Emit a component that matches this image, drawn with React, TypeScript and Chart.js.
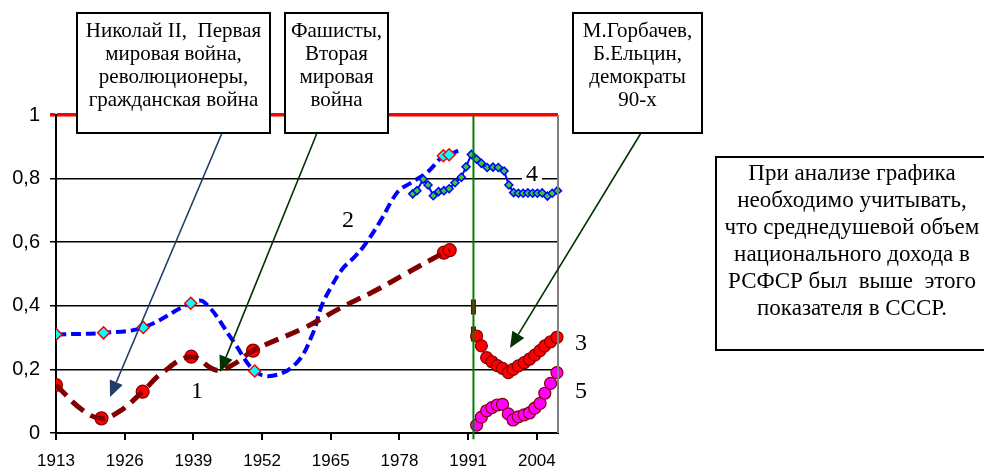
import React, { useEffect, useRef } from 'react';
import { Chart, registerables } from 'chart.js';

Chart.register(...registerables);

// ---------- data ----------
const xTickYears = [1913, 1926, 1939, 1952, 1965, 1978, 1991, 2004];
const yTickValues = [0, 0.2, 0.4, 0.6, 0.8, 1];

// series 1 (dark red dashed, smoothed)
const s1Years = [1913, 1918, 1921.6, 1925, 1929.4, 1933, 1938.6, 1943.2, 1946.5, 1950.3, 1960.4, 1966.7, 1973, 1979.3, 1986.4, 1987.5];
const s1Values = [0.151, 0.072, 0.046, 0.068, 0.13, 0.188, 0.24, 0.198, 0.215, 0.259, 0.334, 0.392, 0.444, 0.502, 0.567, 0.575];
const s1MarkedYears = [1913, 1921.6, 1929.4, 1938.6, 1950.3, 1986.4, 1987.5];

// series 1 continuation at the 1991/92 break
const breakYears = [1992, 1992];
const breakValues = [0.42, 0.28];

// series 2 (blue dashed, smoothed)
const s2Years = [1913, 1922, 1929.5, 1938.5, 1941, 1946.5, 1950.6, 1954, 1958.5, 1961.6, 1963.2, 1965.1, 1967.3, 1969.5, 1971.4, 1974.3, 1977.7, 1980, 1983.4, 1986.3, 1987.4, 1989.1];
const s2Values = [0.31, 0.315, 0.332, 0.408, 0.412, 0.29, 0.195, 0.18, 0.22, 0.313, 0.397, 0.46, 0.518, 0.554, 0.591, 0.664, 0.759, 0.785, 0.822, 0.872, 0.875, 0.888];
const s2MarkedYears = [1913, 1922, 1929.5, 1938.5, 1950.6, 1986.3, 1987.4];

// series 4 (blue line, green diamonds)
const s4Years = [1980.5, 1981.3, 1982.5, 1983.4, 1984.4, 1985.4, 1986.4, 1987.4, 1988.5, 1989.7, 1990.6, 1991.6, 1992.6, 1993.5, 1994.6, 1995.7, 1996.7, 1997.8, 1998.7, 1999.6, 2000.5, 2001.4, 2002.3, 2003.2, 2004.1, 2005.0, 2006.0, 2006.9, 2007.9];
const s4Values = [0.752, 0.762, 0.798, 0.78, 0.746, 0.759, 0.762, 0.768, 0.787, 0.804, 0.837, 0.876, 0.861, 0.848, 0.835, 0.836, 0.835, 0.824, 0.78, 0.756, 0.754, 0.754, 0.755, 0.754, 0.754, 0.755, 0.745, 0.754, 0.762];

// series 3 and 5 (1990s - 2000s)
const recentYears = [1992.6, 1993.5, 1994.5, 1995.5, 1996.5, 1997.5, 1998.6, 1999.5, 2000.5, 2001.6, 2002.6, 2003.6, 2004.6, 2005.5, 2006.6, 2007.8];
const s3Values = [0.305, 0.274, 0.237, 0.224, 0.212, 0.203, 0.19, 0.2, 0.211, 0.221, 0.232, 0.245, 0.259, 0.274, 0.287, 0.301];
const s5Values = [0.025, 0.05, 0.07, 0.08, 0.088, 0.09, 0.06, 0.041, 0.051, 0.057, 0.063, 0.078, 0.093, 0.125, 0.156, 0.19];

// divider
const dividerYears = [1992, 1992];
const dividerValues = [-0.02, 1];

// annotation texts
const box1Lines = ['Николай II,  Первая', 'мировая война,', 'революционеры,', 'гражданская война'];
const box2Lines = ['Фашисты,', 'Вторая', 'мировая', 'война'];
const box3Lines = ['М.Горбачев,', 'Б.Ельцин,', 'демократы', '90-х'];
const noteLines = ['При анализе графика', 'необходимо учитывать,', 'что среднедушевой объем', 'национального дохода в', 'РСФСР был  выше  этого', 'показателя в СССР.'];
const seriesNumbers = ['1', '2', '3', '4', '5'];

// ---------- helpers ----------
const pts = (xs: number[], ys: number[]) => xs.map((x, i) => ({ x, y: ys[i] }));
const SERIF = '"Liberation Serif", "Times New Roman", serif';
const SANS = '"Liberation Sans", Arial, sans-serif';

function drawArrow(ctx: CanvasRenderingContext2D, x1: number, y1: number, x2: number, y2: number, color: string) {
  const ang = Math.atan2(y2 - y1, x2 - x1);
  const headLen = 16;
  const headHalf = 7;
  const bx = x2 - headLen * Math.cos(ang);
  const by = y2 - headLen * Math.sin(ang);
  ctx.save();
  ctx.strokeStyle = color;
  ctx.fillStyle = color;
  ctx.lineWidth = 1.6;
  ctx.beginPath();
  ctx.moveTo(x1, y1);
  ctx.lineTo(bx, by);
  ctx.stroke();
  ctx.beginPath();
  ctx.moveTo(x2, y2);
  ctx.lineTo(bx + headHalf * Math.sin(ang), by - headHalf * Math.cos(ang));
  ctx.lineTo(bx - headHalf * Math.sin(ang), by + headHalf * Math.cos(ang));
  ctx.closePath();
  ctx.fill();
  ctx.restore();
}

function drawBox(ctx: CanvasRenderingContext2D, x: number, y: number, w: number, h: number, lines: string[], size: number, firstBase: number, step: number, cx: number) {
  ctx.save();
  ctx.fillStyle = '#FFFFFF';
  ctx.fillRect(x, y, w, h);
  ctx.strokeStyle = '#000000';
  ctx.lineWidth = 2;
  ctx.strokeRect(x, y, w, h);
  ctx.fillStyle = '#000000';
  ctx.font = `${size}px ${SERIF}`;
  ctx.textAlign = 'center';
  ctx.textBaseline = 'alphabetic';
  lines.forEach((t, i) => ctx.fillText(t, cx, firstBase + i * step));
  ctx.restore();
}

const annotationPlugin = {
  id: 'annotations',
  afterDatasetsDraw(chart: any) {
    const ctx: CanvasRenderingContext2D = chart.ctx;
    const { right, top, bottom } = chart.chartArea;
    ctx.save();
    ctx.strokeStyle = '#808080';
    ctx.lineWidth = 2;
    ctx.beginPath();
    ctx.moveTo(right, top);
    ctx.lineTo(right, bottom);
    ctx.stroke();
    ctx.restore();
  },
  afterDraw(chart: any) {
    const ctx: CanvasRenderingContext2D = chart.ctx;
    drawArrow(ctx, 222, 133, 110, 397, '#1F3D66');
    drawArrow(ctx, 317, 133, 220, 372, '#003300');
    drawArrow(ctx, 641, 133, 510, 348, '#003300');
    drawBox(ctx, 77, 13, 193, 120, box1Lines, 21, 37, 23, 173.5);
    drawBox(ctx, 285, 13, 103, 120, box2Lines, 21, 37, 23, 336.5);
    drawBox(ctx, 573, 13, 129, 120, box3Lines, 21, 37, 23, 637.5);
    drawBox(ctx, 716, 157, 276, 193, noteLines, 23, 180, 27, 852);
    ctx.save();
    ctx.font = `24px ${SERIF}`;
    ctx.textAlign = 'center';
    ctx.textBaseline = 'middle';
    const pos = [
      [197, 391],
      [348, 220],
      [581, 343],
      [532, 174],
      [581, 391],
    ];
    seriesNumbers.forEach((t, i) => {
      const [x, y] = pos[i];
      if (t === '4') {
        ctx.fillStyle = '#FFFFFF';
        ctx.fillRect(x - 10, y - 12, 20, 24);
      }
      ctx.fillStyle = '#000000';
      ctx.fillText(t, x, y + 1);
    });
    ctx.restore();
  },
};

export default function App() {
  const canvasRef = useRef<HTMLCanvasElement | null>(null);

  useEffect(() => {
    if (!canvasRef.current) return;
    const s1Data = pts(s1Years, s1Values);
    const chart = new Chart(canvasRef.current, {
      type: 'line',
      data: {
        datasets: [
          {
            label: 'divider',
            data: pts(dividerYears, dividerValues),
            borderColor: '#008000',
            borderWidth: 2,
            pointRadius: 0,
            fill: false,
            order: 0,
            clip: false as any,
          },
          {
            label: '5',
            data: pts(recentYears, s5Values),
            showLine: false,
            pointStyle: 'circle',
            pointRadius: 6,
            pointBackgroundColor: '#FF00FF',
            pointBorderColor: '#800000',
            pointBorderWidth: 1.2,
            order: 1,
            clip: false as any,
          },
          {
            label: '3',
            data: pts(recentYears, s3Values),
            showLine: false,
            pointStyle: 'circle',
            pointRadius: 6,
            pointBackgroundColor: '#FF0000',
            pointBorderColor: '#800000',
            pointBorderWidth: 1.2,
            order: 2,
            clip: false as any,
          },
          {
            label: 'break',
            data: pts(breakYears, breakValues),
            borderColor: '#800000',
            borderWidth: 5,
            borderDash: [15, 12],
            pointRadius: 0,
            order: 3,
          },
          {
            label: '4',
            data: pts(s4Years, s4Values),
            borderColor: '#0000FF',
            borderWidth: 2,
            tension: 0,
            pointStyle: 'rectRot',
            pointRadius: 4,
            pointBackgroundColor: '#33CC33',
            pointBorderColor: '#0000FF',
            pointBorderWidth: 1.5,
            order: 4,
            clip: false as any,
          },
          {
            label: '1',
            data: s1Data,
            borderColor: '#800000',
            borderWidth: 5,
            borderDash: [15, 8],
            tension: 0.4,
            pointRadius: 0,
            order: 5,
          },
          {
            label: '1 markers',
            data: s1Data,
            showLine: false,
            pointStyle: 'circle',
            pointRadius: (c: any) => (c.raw && s1MarkedYears.includes(c.raw.x) ? 6.5 : 0),
            pointBackgroundColor: '#FF0000',
            pointBorderColor: '#800000',
            pointBorderWidth: 1.2,
            order: 6,
          },
          {
            label: '2',
            data: pts(s2Years, s2Values),
            borderColor: '#0000FF',
            borderWidth: 4,
            borderDash: [10, 5],
            tension: 0.4,
            pointStyle: 'rectRot',
            pointRadius: (c: any) => (c.raw && s2MarkedYears.includes(c.raw.x) ? 6 : 0),
            pointBackgroundColor: '#00FFFF',
            pointBorderColor: '#FF0000',
            pointBorderWidth: 1.5,
            order: 7,
          },
        ],
      },
      options: {
        responsive: false,
        animation: false,
        events: [],
        layout: { padding: { left: 0, top: 115, right: 426, bottom: 0 } },
        plugins: {
          legend: { display: false },
          tooltip: { enabled: false },
        },
        scales: {
          x: {
            type: 'linear',
            min: 1913,
            max: 2008,
            afterBuildTicks: (s: any) => {
              s.ticks = xTickYears.map((v) => ({ value: v }));
            },
            afterFit: (s: any) => {
              s.height = 37;
            },
            ticks: {
              callback: (v: any) => String(v),
              color: '#000000',
              font: { family: SANS, size: 17 },
              padding: 11,
              autoSkip: false,
              maxRotation: 0,
            },
            grid: {
              drawOnChartArea: false,
              drawTicks: true,
              tickLength: 7,
              color: '#000000',
              lineWidth: 2,
            },
            border: { display: true, color: '#000000', width: 2 },
          },
          y: {
            type: 'linear',
            min: 0,
            max: 1,
            afterBuildTicks: (s: any) => {
              s.ticks = yTickValues.map((v) => ({ value: v }));
            },
            afterFit: (s: any) => {
              s.width = 56;
            },
            ticks: {
              callback: (v: any) => String(Math.round(Number(v) * 10) / 10).replace('.', ','),
              color: '#000000',
              font: { family: SANS, size: 20 },
              padding: 10,
            },
            grid: {
              color: (c: any) => (c.tick && c.tick.value === 1 ? '#FF0000' : '#000000'),
              lineWidth: (c: any) => (c.tick && c.tick.value === 1 ? 3.5 : 1.5),
              tickLength: 6,
              drawTicks: true,
            },
            border: { display: true, color: '#000000', width: 2 },
          },
        },
      },
      plugins: [annotationPlugin],
    } as any);
    return () => chart.destroy();
  }, []);

  return (
    <div style={{ position: 'absolute', left: 0, top: 0, width: 984, height: 470, background: '#FFFFFF' }}>
      <canvas ref={canvasRef} width={984} height={470} style={{ display: 'block' }} />
    </div>
  );
}
